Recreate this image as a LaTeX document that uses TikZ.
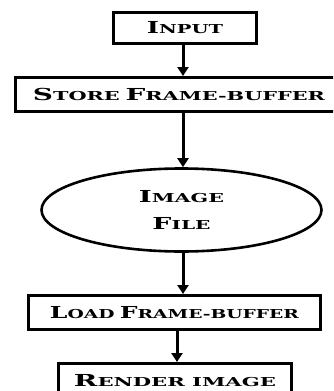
\documentclass[tikz,border=0pt]{standalone}
\usepackage{fontspec}
\usepackage{graphicx}
\setmainfont{DejaVu Serif}
\usetikzlibrary{arrows.meta,shapes.geometric}
\newcommand\cc[2]{{\fontsize{16.5}{20}\selectfont #1}{\fontsize{12.3}{15}\selectfont #2}}
\newcommand\lbl[2]{\resizebox{#1}{\height}{\bfseries #2}}
\tikzset{
  box/.style={draw=black, line width=3pt, rectangle, inner sep=0pt, fill=white},
  oval/.style={draw=black, line width=2.6pt, ellipse, inner sep=0pt, fill=white},
  arr/.style={line width=3pt, -{Triangle[width=11pt,length=9pt]}}
}
\begin{document}
\begin{tikzpicture}[x=1pt,y=-1pt]
\useasboundingbox (0,0) rectangle (333,391);
\clip (0,0) rectangle (333,391);
\fill[white] (0,0) rectangle (333,391);
\coordinate (c1) at (183,0);
\coordinate (c2) at (177,0);
\node[box, minimum width=143pt, minimum height=31pt] (inp) at (185,28)
  {\lbl{76pt}{\cc{I}{NPUT}}};
\node[box, minimum width=327pt, minimum height=34pt] (store) at (179,94.5)
  {\lbl{292pt}{\cc{S}{TORE} \cc{F}{RAME-BUFFER}}};
\node[oval, minimum width=280pt, minimum height=83pt, align=center] (img) at (181.5,210)
  {\lbl{85pt}{\cc{I}{MAGE}}\\[13pt]\lbl{58pt}{\cc{F}{ILE}}};
\node[box, minimum width=292pt, minimum height=34pt] (load) at (174.5,312.5)
  {\lbl{249pt}{\cc{L}{OAD} \cc{F}{RAME-BUFFER}}};
\node[box, minimum width=233pt, minimum height=34pt] (rend) at (175,380.5)
  {\lbl{202pt}{\cc{R}{ENDER IMAGE}}};
\draw[arr] (inp.south -| c1) -- (store.north -| c1);
\draw[arr] (store.south -| c1) -- (img.north -| c1);
\draw[arr] (img.south -| c1) -- (load.north -| c1);
\draw[arr] (load.south -| c2) -- (rend.north -| c2);
\end{tikzpicture}
\end{document}
